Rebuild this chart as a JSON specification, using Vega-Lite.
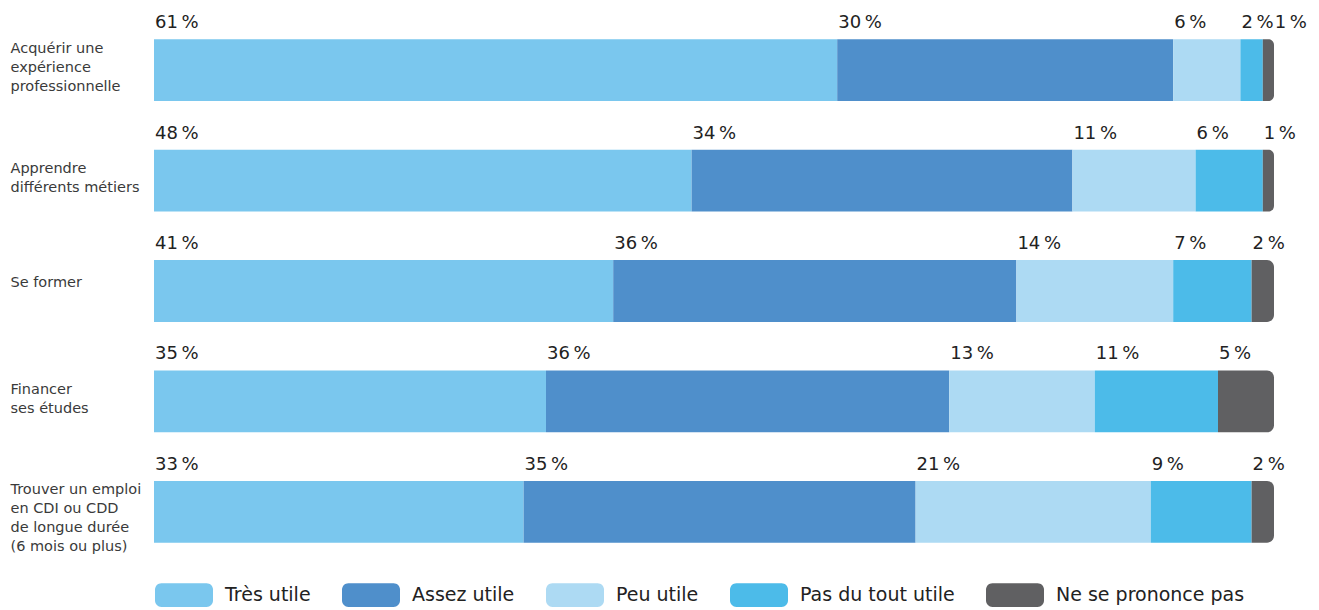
{
  "$schema": "https://vega.github.io/schema/vega-lite/v6.json",
  "autosize": {"type": "none"},
  "width": 1120,
  "height": 552,
  "padding": {"left": 154, "top": 15, "right": 45, "bottom": 43},
  "background": "white",
  "config": {
    "view": {"stroke": null},
    "font": "DejaVu Sans",
    "text": {"font": "DejaVu Sans"}
  },
  "data": {
    "values": [
      {"cat": "Acquérir une|expérience|professionnelle", "resp": "Très utile", "o": 1, "pct": 61},
      {"cat": "Acquérir une|expérience|professionnelle", "resp": "Assez utile", "o": 2, "pct": 30},
      {"cat": "Acquérir une|expérience|professionnelle", "resp": "Peu utile", "o": 3, "pct": 6},
      {"cat": "Acquérir une|expérience|professionnelle", "resp": "Pas du tout utile", "o": 4, "pct": 2},
      {"cat": "Acquérir une|expérience|professionnelle", "resp": "Ne se prononce pas", "o": 5, "pct": 1},
      {"cat": "Apprendre|différents métiers", "resp": "Très utile", "o": 1, "pct": 48},
      {"cat": "Apprendre|différents métiers", "resp": "Assez utile", "o": 2, "pct": 34},
      {"cat": "Apprendre|différents métiers", "resp": "Peu utile", "o": 3, "pct": 11},
      {"cat": "Apprendre|différents métiers", "resp": "Pas du tout utile", "o": 4, "pct": 6},
      {"cat": "Apprendre|différents métiers", "resp": "Ne se prononce pas", "o": 5, "pct": 1},
      {"cat": "Se former", "resp": "Très utile", "o": 1, "pct": 41},
      {"cat": "Se former", "resp": "Assez utile", "o": 2, "pct": 36},
      {"cat": "Se former", "resp": "Peu utile", "o": 3, "pct": 14},
      {"cat": "Se former", "resp": "Pas du tout utile", "o": 4, "pct": 7},
      {"cat": "Se former", "resp": "Ne se prononce pas", "o": 5, "pct": 2},
      {"cat": "Financer|ses études", "resp": "Très utile", "o": 1, "pct": 35},
      {"cat": "Financer|ses études", "resp": "Assez utile", "o": 2, "pct": 36},
      {"cat": "Financer|ses études", "resp": "Peu utile", "o": 3, "pct": 13},
      {"cat": "Financer|ses études", "resp": "Pas du tout utile", "o": 4, "pct": 11},
      {"cat": "Financer|ses études", "resp": "Ne se prononce pas", "o": 5, "pct": 5},
      {"cat": "Trouver un emploi|en CDI ou CDD|de longue durée|(6 mois ou plus)", "resp": "Très utile", "o": 1, "pct": 33},
      {"cat": "Trouver un emploi|en CDI ou CDD|de longue durée|(6 mois ou plus)", "resp": "Assez utile", "o": 2, "pct": 35},
      {"cat": "Trouver un emploi|en CDI ou CDD|de longue durée|(6 mois ou plus)", "resp": "Peu utile", "o": 3, "pct": 21},
      {"cat": "Trouver un emploi|en CDI ou CDD|de longue durée|(6 mois ou plus)", "resp": "Pas du tout utile", "o": 4, "pct": 9},
      {"cat": "Trouver un emploi|en CDI ou CDD|de longue durée|(6 mois ou plus)", "resp": "Ne se prononce pas", "o": 5, "pct": 2}
    ]
  },
  "transform": [
    {"stack": "pct", "groupby": ["cat"], "sort": [{"field": "o", "order": "ascending"}], "as": ["x0", "x1"]},
    {"window": [{"op": "lag", "field": "pct", "as": "prev"}], "groupby": ["cat"], "sort": [{"field": "o", "order": "ascending"}]},
    {"calculate": "datum.pct + '\u202f%'", "as": "lab"}
  ],
  "encoding": {
    "y": {
      "field": "cat",
      "type": "nominal",
      "sort": null,
      "title": null,
      "scale": {"paddingInner": 0.44, "paddingOuter": 0.22},
      "axis": {
        "domain": false,
        "ticks": false,
        "labelAlign": "left",
        "labelPadding": 144,
        "labelFontSize": 14.5,
        "labelColor": "#3a3a3a",
        "labelFont": "DejaVu Sans",
        "labelLineHeight": 19,
        "labelLimit": 200,
        "labelExpr": "split(datum.label, '|')",
        "labelOffset": {
          "condition": [
            {"test": "length(split(datum.value, '|')) == 1", "value": -8},
            {"test": "length(split(datum.value, '|')) == 2", "value": -11.5}
          ],
          "value": -21.5
        }
      }
    }
  },
  "layer": [
    {
      "transform": [{"filter": "datum.o < 5"}],
      "mark": {"type": "bar"},
      "encoding": {
        "x": {"field": "x0", "type": "quantitative", "scale": {"domain": [0, 100], "nice": false}, "axis": null},
        "x2": {"field": "x1"},
        "color": {
          "field": "resp",
          "type": "nominal",
          "scale": {
            "domain": ["Très utile", "Assez utile", "Peu utile", "Pas du tout utile", "Ne se prononce pas"],
            "range": ["#7AC7EE", "#4F8FCB", "#ADDAF3", "#4CBBE9", "#606062"]
          },
          "legend": {
            "orient": "none",
            "direction": "horizontal",
            "legendX": 1,
            "legendY": 551,
            "title": null,
            "symbolType": "M -0.78 -0.41 L 0.78 -0.41 A 0.22 0.22 0 0 1 1 -0.19 L 1 0.19 A 0.22 0.22 0 0 1 0.78 0.41 L -0.78 0.41 A 0.22 0.22 0 0 1 -1 0.19 L -1 -0.19 A 0.22 0.22 0 0 1 -0.78 -0.41 Z",
            "symbolSize": 3364,
            "symbolStrokeWidth": 0,
            "symbolOpacity": 1,
            "labelFontSize": 19,
            "labelColor": "#222222",
            "labelFont": "DejaVu Sans",
            "labelOffset": 12,
            "columnPadding": 30,
            "labelLimit": 300
          }
        }
      }
    },
    {
      "transform": [{"filter": "datum.o == 5"}],
      "mark": {"type": "bar", "cornerRadiusTopRight": 7, "cornerRadiusBottomRight": 7},
      "encoding": {
        "x": {"field": "x0", "type": "quantitative"},
        "x2": {"field": "x1"},
        "color": {"field": "resp", "type": "nominal"}
      }
    },
    {
      "mark": {"type": "text", "align": "left", "baseline": "alphabetic", "dx": {"expr": "datum.o == 5 && datum.prev < 3 ? 12 : 1"}, "dy": -11, "fontSize": 18, "color": "#222222", "font": "DejaVu Sans"},
      "encoding": {
        "x": {"field": "x0", "type": "quantitative"},
        "y": {"field": "cat", "type": "nominal", "sort": null, "bandPosition": 0},
        "text": {"field": "lab", "type": "nominal"}
      }
    }
  ]
}
